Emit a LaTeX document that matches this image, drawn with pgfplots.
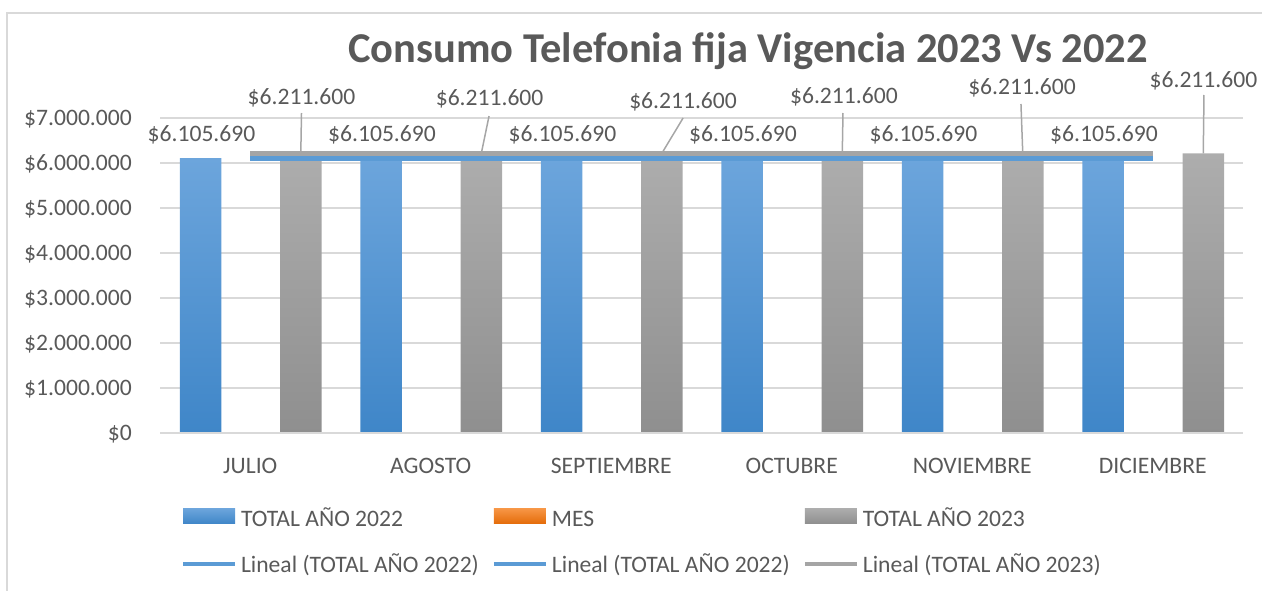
\documentclass[border=0pt]{standalone}
\usepackage{pgfplots}
\pgfplotsset{compat=1.18}
\usepackage{fontspec}
\setmainfont{Carlito}
\definecolor{txt}{HTML}{595959}
\definecolor{gridc}{HTML}{D9D9D9}
\definecolor{blueT}{HTML}{6CA5DC}
\definecolor{blueB}{HTML}{3F86C8}
\definecolor{grayT}{HTML}{ADADAD}
\definecolor{grayB}{HTML}{8F8F8F}
\definecolor{orT}{HTML}{F79646}
\definecolor{orB}{HTML}{E46C0A}
\definecolor{trendB}{HTML}{5B9BD5}
\definecolor{trendG}{HTML}{A5A5A5}
\definecolor{leader}{HTML}{A6A6A6}
\newcommand{\fs}{\fontsize{23.6pt}{28pt}\selectfont}
\begin{document}
\begin{tikzpicture}[x=1pt,y=1pt]
\useasboundingbox (0,0) rectangle (1262,591);
\draw[gridc, line width=2pt] (7,0) -- (7,577.5) -- (1262,577.5);
\node[text=txt, anchor=base, font=\fontsize{42.5pt}{50pt}\selectfont\bfseries, inner sep=0pt] at (748,528) {Consumo Telefonia fija Vigencia 2023 Vs 2022};
\begin{axis}[
  at={(160pt,158pt)}, anchor=south west,
  scale only axis, width=1083pt, height=315pt,
  xmin=-0.5, xmax=5.5, ymin=0, ymax=7000000,
  clip=false,
  axis line style={draw=none},
  xtick={0,1,2,3,4,5},
  xticklabels={JULIO,AGOSTO,SEPTIEMBRE,OCTUBRE,NOVIEMBRE,DICIEMBRE},
  ytick={0,1000000,2000000,3000000,4000000,5000000,6000000,7000000},
  yticklabels={\$0,\$1.000.000,\$2.000.000,\$3.000.000,\$4.000.000,\$5.000.000,\$6.000.000,\$7.000.000},
  scaled y ticks=false,
  tick style={draw=none},
  ymajorgrids, grid style={gridc, line width=1.5pt},
  ticklabel style={font=\fs, text=txt, inner sep=0pt, text height=15pt, text depth=0pt},
  xticklabel style={anchor=north, yshift=-25pt},
  yticklabel style={anchor=east, xshift=-28pt},
  /pgf/number format/assume math mode=true,
  legend columns=3,
  legend cell align=left,
  legend style={at={(0.0194,-0.240)}, anchor=north west, draw=none, fill=none,
    inner sep=0pt, outer sep=0pt, font=\fs, text=txt,
    nodes={inner sep=0pt, text height=15pt, text depth=0pt},
    /tikz/every odd column/.append style={column sep=4pt},
    /tikz/every even column/.append style={column sep=13pt},
    row sep=31pt},
]
\addplot[ybar, bar width=0.23, bar shift=-0.275, draw=none, top color=blueT, bottom color=blueB,
  legend image code/.code={\path[top color=blueT, bottom color=blueB] (0pt,-4.5pt) rectangle (52pt,10.5pt);}]
  coordinates {(0,6105690) (1,6105690) (2,6105690) (3,6105690) (4,6105690) (5,6105690)};
\addlegendentry{TOTAL AÑO 2022}
\addplot[ybar, bar width=0.23, bar shift=0, draw=none, top color=orT, bottom color=orB,
  legend image code/.code={\path[top color=orT, bottom color=orB] (0pt,-4.5pt) rectangle (52pt,10.5pt);}]
  coordinates {(0,0) (1,0) (2,0) (3,0) (4,0) (5,0)};
\addlegendentry{MES}
\addplot[ybar, bar width=0.23, bar shift=0.28, draw=none, top color=grayT, bottom color=grayB,
  legend image code/.code={\path[top color=grayT, bottom color=grayB] (0pt,-4.5pt) rectangle (52pt,10.5pt);}]
  coordinates {(0,6211600) (1,6211600) (2,6211600) (3,6211600) (4,6211600) (5,6211600)};
\addlegendentry{TOTAL AÑO 2023}
\addplot[trendB, line width=4.6pt, mark=none,
  legend image code/.code={\draw[trendB, line width=4pt] (0pt,1.5pt) -- (52pt,1.5pt);}]
  coordinates {(0,6105690) (5,6105690)};
\addlegendentry{Lineal (TOTAL AÑO 2022)}
\addplot[trendB, line width=1.5pt, mark=none,
  legend image code/.code={\draw[trendB, line width=4pt] (0pt,1.5pt) -- (52pt,1.5pt);}]
  coordinates {(0,0) (5,0)};
\addlegendentry{Lineal (TOTAL AÑO 2022)}
\addplot[trendG, line width=4.6pt, mark=none,
  legend image code/.code={\draw[trendG, line width=4pt] (0pt,1.5pt) -- (52pt,1.5pt);}]
  coordinates {(0,6211600) (5,6211600)};
\addlegendentry{Lineal (TOTAL AÑO 2023)}
\draw[gridc, line width=2.5pt] (axis cs:-0.5,0) -- (axis cs:5.5,0);
% leader lines
\addplot[forget plot, leader, line width=1.5pt, mark=none] coordinates {(0.284,7111000) (0.28,6211600)};
\addplot[forget plot, leader, line width=1.5pt, mark=none] coordinates {(1.323,7044000) (1.28,6211600)};
\addplot[forget plot, leader, line width=1.5pt, mark=none] coordinates {(2.398,7000000) (2.28,6211600)};
\addplot[forget plot, leader, line width=1.5pt, mark=none] coordinates {(3.284,7111000) (3.28,6211600)};
\addplot[forget plot, leader, line width=1.5pt, mark=none] coordinates {(4.270,7311000) (4.28,6211600)};
\addplot[forget plot, leader, line width=1.5pt, mark=none] coordinates {(5.284,7511000) (5.28,6211600)};
% labels of TOTAL AÑO 2022
\addplot[forget plot, draw=none, mark=none, nodes near coords, point meta=explicit symbolic,
  every node near coord/.append style={anchor=center, font=\fs, text=txt, inner sep=0pt, text height=15pt, text depth=0pt}]
  coordinates {(-0.270,6644000)[\$6.105.690] (0.730,6644000)[\$6.105.690] (1.730,6644000)[\$6.105.690]
    (2.730,6644000)[\$6.105.690] (3.730,6644000)[\$6.105.690] (4.730,6644000)[\$6.105.690]};
% labels of TOTAL AÑO 2023
\addplot[forget plot, draw=none, mark=none, nodes near coords, point meta=explicit symbolic,
  every node near coord/.append style={anchor=center, font=\fs, text=txt, inner sep=0pt, text height=15pt, text depth=0pt}]
  coordinates {(0.284,7466700)[\$6.211.600] (1.326,7433300)[\$6.211.600] (2.398,7377800)[\$6.211.600]
    (3.289,7477800)[\$6.211.600] (4.276,7677800)[\$6.211.600] (5.281,7844400)[\$6.211.600]};
\end{axis}
\end{tikzpicture}
\end{document}
